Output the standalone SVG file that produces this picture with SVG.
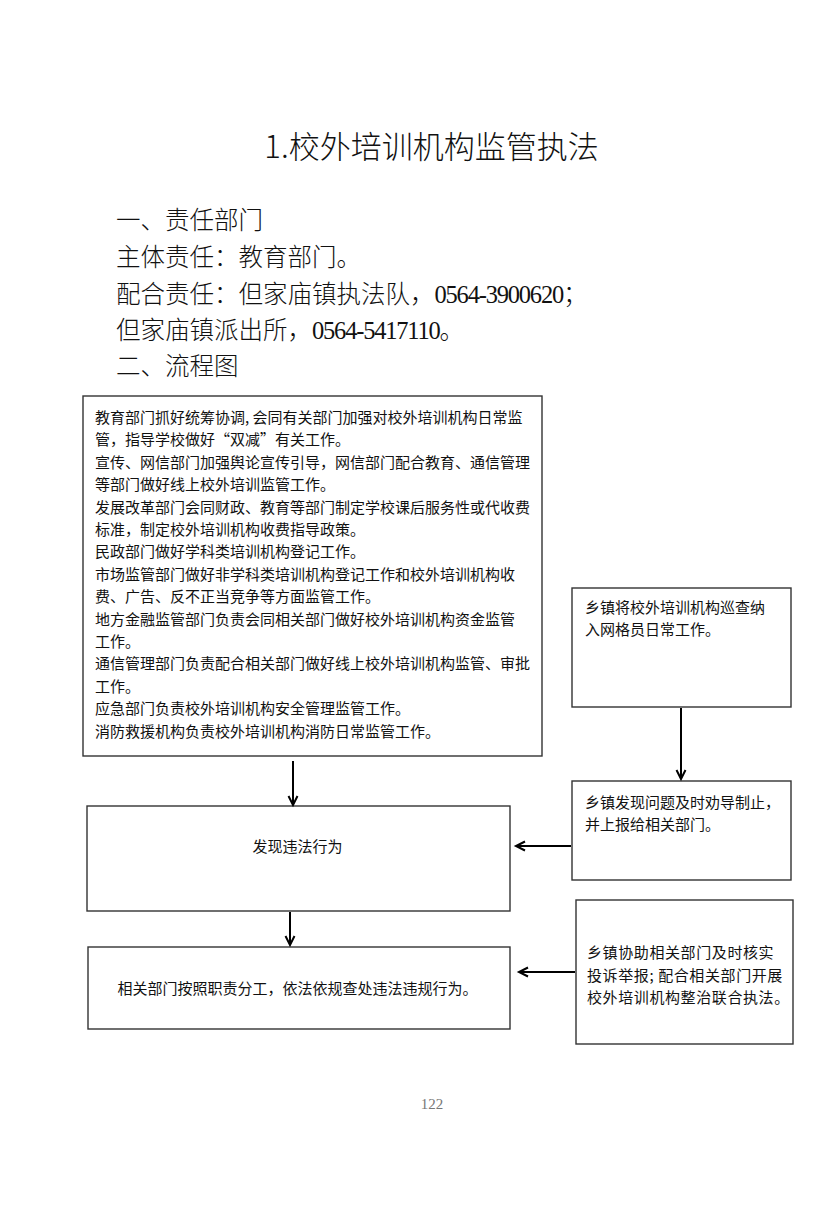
<svg xmlns="http://www.w3.org/2000/svg" width="828" height="1211" viewBox="0 0 828 1211">
<style>
.cjk{font-family:"Noto Sans CJK SC","Noto Sans",sans-serif;fill:#111}
.num{font-family:"Liberation Serif",serif;letter-spacing:-1.2px}
.h{font-size:24.5px;font-weight:300}
.t{font-size:15px}
.box{fill:#fff;stroke:#333;stroke-width:1.4}
.con{stroke:#000;stroke-width:2;fill:none}
</style>
<defs>
<marker id="ah" markerUnits="userSpaceOnUse" markerWidth="14" markerHeight="14" refX="10" refY="6" orient="auto">
<path d="M1,1.5 L10,6 L1,10.5" fill="none" stroke="#000" stroke-width="2"/>
</marker>
</defs>
<rect width="828" height="1211" fill="#fff"/>
<g id="header">
<text class="cjk" x="431.5" y="158" font-size="31" font-weight="300" text-anchor="middle">1.校外培训机构监管执法</text>
<text class="cjk h" x="116" y="229">一、责任部门</text>
<text class="cjk h" x="116" y="266">主体责任：教育部门。</text>
<text class="cjk h" x="116" y="303">配合责任：但家庙镇执法队，<tspan class="num">0564-3900620</tspan>；</text>
<text class="cjk h" x="116" y="339">但家庙镇派出所，<tspan class="num">0564-5417110</tspan>。</text>
<text class="cjk h" x="116" y="375">二、流程图</text>
</g>
<g id="n1">
<rect class="box" x="83" y="396" width="459" height="360"/>
<text class="cjk t">
<tspan x="95" y="423">教育部门抓好统筹协调, 会同有关部门加强对校外培训机构日常监</tspan>
<tspan x="95" y="445.4">管，指导学校做好“双减”有关工作。</tspan>
<tspan x="95" y="467.8">宣传、网信部门加强舆论宣传引导，网信部门配合教育、通信管理</tspan>
<tspan x="95" y="490.2">等部门做好线上校外培训监管工作。</tspan>
<tspan x="95" y="512.6">发展改革部门会同财政、教育等部门制定学校课后服务性或代收费</tspan>
<tspan x="95" y="535">标准，制定校外培训机构收费指导政策。</tspan>
<tspan x="95" y="557.4">民政部门做好学科类培训机构登记工作。</tspan>
<tspan x="95" y="579.8">市场监管部门做好非学科类培训机构登记工作和校外培训机构收</tspan>
<tspan x="95" y="602.2">费、广告、反不正当竞争等方面监管工作。</tspan>
<tspan x="95" y="624.6">地方金融监管部门负责会同相关部门做好校外培训机构资金监管</tspan>
<tspan x="95" y="647">工作。</tspan>
<tspan x="95" y="669.4">通信管理部门负责配合相关部门做好线上校外培训机构监管、审批</tspan>
<tspan x="95" y="691.8">工作。</tspan>
<tspan x="95" y="714.2">应急部门负责校外培训机构安全管理监管工作。</tspan>
<tspan x="95" y="736.6">消防救援机构负责校外培训机构消防日常监管工作。</tspan>
</text>
</g>
<g id="n2">
<rect class="box" x="572" y="588" width="219" height="119"/>
<text class="cjk t"><tspan x="585" y="612.7">乡镇将校外培训机构巡查纳</tspan><tspan x="585" y="634.7">入网格员日常工作。</tspan></text>
</g>
<g id="n3">
<rect class="box" x="572" y="781" width="219" height="99"/>
<text class="cjk t"><tspan x="585" y="808">乡镇发现问题及时劝导制止，</tspan><tspan x="585" y="830">并上报给相关部门。</tspan></text>
</g>
<g id="n4">
<rect class="box" x="87" y="806" width="423" height="105"/>
<text class="cjk t" x="297.5" y="851.7" text-anchor="middle">发现违法行为</text>
</g>
<g id="n5">
<rect class="box" x="88" y="947" width="422" height="82"/>
<text class="cjk t" x="297.5" y="993.7" text-anchor="middle">相关部门按照职责分工，依法依规查处违法违规行为。</text>
</g>
<g id="n6">
<rect class="box" x="576" y="900" width="217" height="144"/>
<text class="cjk t" letter-spacing="0.6"><tspan x="587" y="957.7">乡镇协助相关部门及时核实</tspan><tspan x="587" y="980.7">投诉举报; 配合相关部门开展</tspan><tspan x="587" y="1002.7">校外培训机构整治联合执法。</tspan></text>
</g>
<g id="connectors">
<line class="con" x1="293" y1="761" x2="293" y2="805" marker-end="url(#ah)"/>
<line class="con" x1="681" y1="708" x2="681" y2="779" marker-end="url(#ah)"/>
<line class="con" x1="571" y1="846" x2="516" y2="846" marker-end="url(#ah)"/>
<line class="con" x1="290" y1="912" x2="290" y2="945" marker-end="url(#ah)"/>
<line class="con" x1="575" y1="972" x2="519" y2="972" marker-end="url(#ah)"/>
</g>
<text x="432" y="1109" font-family="Liberation Serif,serif" font-size="15" fill="#777" text-anchor="middle">122</text>
</svg>
